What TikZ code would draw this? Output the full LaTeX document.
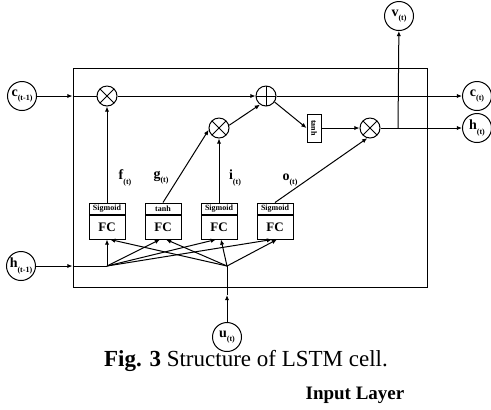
\documentclass[tikz,border=0pt]{standalone}
\usepackage{fontspec}
\setmainfont{Liberation Serif}
\usepackage{graphicx}
\usetikzlibrary{arrows.meta,positioning}
\newcommand{\vlab}[2]{{\fontsize{7}{8}\selectfont\bfseries #1\raisebox{-0.3em}{\fontsize{4}{5}\selectfont #2}}}

\begin{document}
\begin{tikzpicture}[
  x=0.5pt, y=-0.5pt, line width=0.5pt,
  >={Latex[length=2.6pt,width=2.2pt]},
  io/.style={circle, draw, minimum size=14.5pt, inner sep=0pt},
  mul/.style={circle, draw, minimum size=10pt, inner sep=0pt,
    path picture={\draw (path picture bounding box.north west) -- (path picture bounding box.south east)
      (path picture bounding box.north east) -- (path picture bounding box.south west);}},
  add/.style={circle, draw, minimum size=10pt, inner sep=0pt,
    path picture={\draw (path picture bounding box.north) -- (path picture bounding box.south)
      (path picture bounding box.west) -- (path picture bounding box.east);}},
  gate/.style={draw, minimum width=18pt, minimum height=5.5pt, inner sep=0pt,
    font=\fontsize{4}{4}\selectfont\bfseries},
  fc/.style={draw, minimum width=18pt, minimum height=12pt, inner sep=0pt,
    font=\fontsize{6.5}{7}\selectfont\bfseries},
  act/.style={draw, minimum width=7pt, minimum height=14pt, inner sep=0pt,
    font=\fontsize{4}{4}\selectfont\bfseries},
]
\useasboundingbox (0,0) rectangle (491,409);
\node[draw, minimum width=177pt, minimum height=109.5pt, inner sep=0pt] (cell) at (250,177.5) {};
\node[io] (cin) at (22,96) {\vlab{c}{(t-1)}};
\node[io] (hin) at (21,266) {\vlab{h}{(t-1)}};
\node[io] (uin) at (227,337) {\vlab{u}{(t)}};
\node[io] (vout) at (399,16) {\vlab{v}{(t)}};
\node[io] (cout) at (477,96) {\vlab{c}{(t)}};
\node[io] (hout) at (477,128) {\vlab{h}{(t)}};
\node[mul] (m1) at (107,96) {};
\node[mul] (m2) at (219,128) {};
\node[add] (pl) at (266,96) {};
\node[act] (th) at (314,128) {\rotatebox{-90}{tanh}};
\node[mul] (m3) at (370,128) {};
\node[gate] (s1) at (107,208.5) {Sigmoid};
\node[fc, below=0pt of s1] (fc1) {FC};
\node[gate] (s2) at (163,208.5) {tanh};
\node[fc, below=0pt of s2] (fc2) {FC};
\node[gate] (s3) at (219,208.5) {Sigmoid};
\node[fc, below=0pt of s3] (fc3) {FC};
\node[gate] (s4) at (275,208.5) {Sigmoid};
\node[fc, below=0pt of s4] (fc4) {FC};
\node (lf) at (125,178) {\vlab{f}{(t)}};
\node (lg) at (161,178) {\vlab{g}{(t)}};
\node (li) at (235,178) {\vlab{i}{(t)}};
\node (lo) at (290,180) {\vlab{o}{(t)}};
\coordinate (cb) at (cell.west |- cin);
\coordinate (hb) at (cell.west |- hin);
\coordinate (hj) at (107,266);
\coordinate (uj) at (227,266);
\coordinate (ua) at (227,295);
\coordinate (br) at (398,128);
\draw[->] (cin) -- (cb);
\draw (cb) -- (m1);
\draw[->] (m1) -- (pl);
\draw[->] (pl) -- (cout);
\draw[->] (s1) -- (m1);
\draw[->] (s2.north) -- (m2.190);
\draw[->] (s3) -- (m2);
\draw[->] (s4.north) -- (m3.255);
\draw[->] (m2.15) -- (pl.235);
\draw[->] (pl.-35) -- (th.west);
\draw[->] (th) -- (m3);
\draw[->] (m3) -- (hout);
\draw[->] (br) -- (vout);
\draw[->] (hin) -- (hb);
\draw (hb) -- (hj);
\draw[->] (uin) -- (ua);
\draw (ua) -- (uj);
\draw[->] (hj) -- (fc1);
\draw[->] (hj) -- ([xshift=-1.5pt]fc2.south);
\draw[->] (hj) -- ([xshift=-1.5pt]fc3.south);
\draw[->] (hj) -- ([xshift=-1.5pt]fc4.south);
\draw[->] (uj) -- ([xshift=1.5pt]fc1.south);
\draw[->] (uj) -- ([xshift=1.5pt]fc2.south);
\draw[->] (uj) -- ([xshift=1pt]fc3.south);
\draw[->] (uj) -- ([xshift=1pt]fc4.south);
\node[font=\fontsize{11.5}{13}\selectfont] (cap) at (246,361) {\textbf{Fig. 3} Structure of LSTM cell.};
\node[font=\fontsize{9.5}{11}\selectfont\bfseries] (inl) at (355,395) {Input Layer};
\end{tikzpicture}
\end{document}
